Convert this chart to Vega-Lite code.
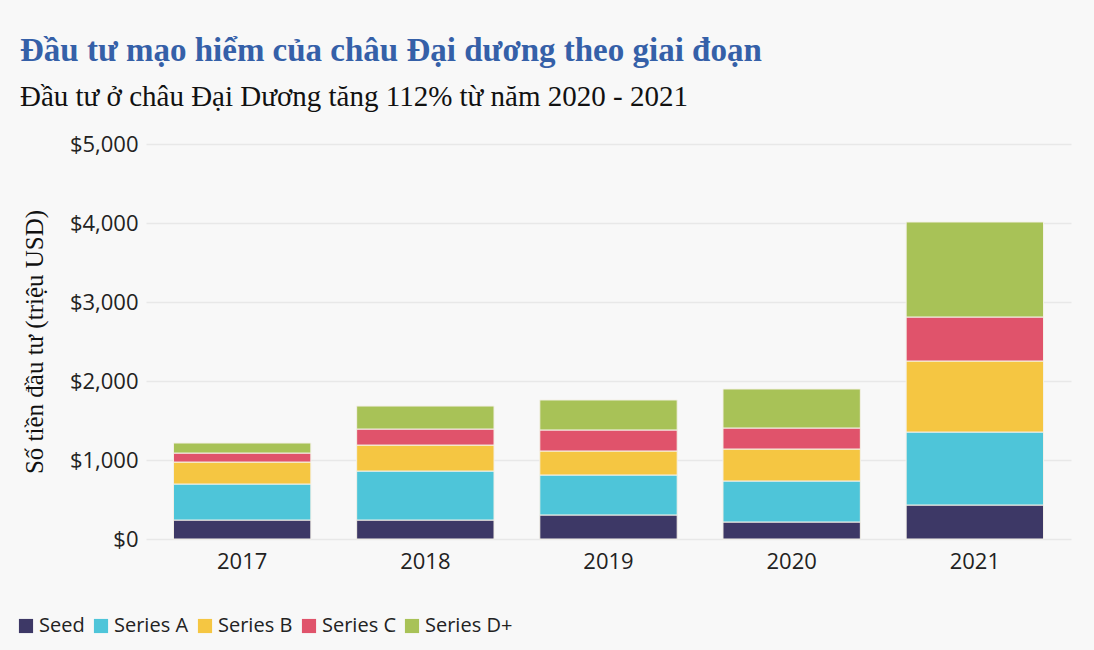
{
  "$schema": "https://vega.github.io/schema/vega-lite/v6.json",
  "width": 925,
  "height": 395,
  "padding": {"left": 16, "top": 35, "right": 30, "bottom": 14},
  "background": "#f8f8f8",
  "title": {
    "text": "Đầu tư mạo hiểm của châu Đại dương theo giai đoạn",
    "subtitle": "Đầu tư ở châu Đại Dương tăng 112% từ năm 2020 - 2021",
    "anchor": "start",
    "frame": "group",
    "offset": 21,
    "font": "Liberation Serif",
    "fontSize": 33,
    "fontWeight": "bold",
    "color": "#3560a8",
    "subtitleFont": "Liberation Serif",
    "subtitleFontSize": 29,
    "subtitleColor": "#111111",
    "subtitlePadding": 15,
    "dx": -126
  },
  "data": {
    "values": [
      {"year": "2017", "stage": "Seed", "value": 240, "o": 1},
      {"year": "2017", "stage": "Series A", "value": 456, "o": 2},
      {"year": "2017", "stage": "Series B", "value": 278, "o": 3},
      {"year": "2017", "stage": "Series C", "value": 114, "o": 4},
      {"year": "2017", "stage": "Series D+", "value": 127, "o": 5},
      {"year": "2018", "stage": "Seed", "value": 240, "o": 1},
      {"year": "2018", "stage": "Series A", "value": 620, "o": 2},
      {"year": "2018", "stage": "Series B", "value": 329, "o": 3},
      {"year": "2018", "stage": "Series C", "value": 203, "o": 4},
      {"year": "2018", "stage": "Series D+", "value": 291, "o": 5},
      {"year": "2019", "stage": "Seed", "value": 304, "o": 1},
      {"year": "2019", "stage": "Series A", "value": 506, "o": 2},
      {"year": "2019", "stage": "Series B", "value": 304, "o": 3},
      {"year": "2019", "stage": "Series C", "value": 266, "o": 4},
      {"year": "2019", "stage": "Series D+", "value": 380, "o": 5},
      {"year": "2020", "stage": "Seed", "value": 215, "o": 1},
      {"year": "2020", "stage": "Series A", "value": 519, "o": 2},
      {"year": "2020", "stage": "Series B", "value": 405, "o": 3},
      {"year": "2020", "stage": "Series C", "value": 266, "o": 4},
      {"year": "2020", "stage": "Series D+", "value": 494, "o": 5},
      {"year": "2021", "stage": "Seed", "value": 430, "o": 1},
      {"year": "2021", "stage": "Series A", "value": 924, "o": 2},
      {"year": "2021", "stage": "Series B", "value": 899, "o": 3},
      {"year": "2021", "stage": "Series C", "value": 557, "o": 4},
      {"year": "2021", "stage": "Series D+", "value": 1203, "o": 5}
    ]
  },
  "mark": {"type": "bar", "stroke": "#f4f1e8", "strokeWidth": 1},
  "encoding": {
    "x": {
      "field": "year",
      "type": "ordinal",
      "title": null,
      "scale": {"paddingInner": 0.25, "paddingOuter": 0.15},
      "axis": {
        "labelAngle": 0,
        "labelFont": "Open Sans",
        "labelFontSize": 22,
        "labelColor": "#222222",
        "labelPadding": 12,
        "ticks": false,
        "domain": false
      }
    },
    "y": {
      "field": "value",
      "type": "quantitative",
      "stack": "zero",
      "title": "Số tiền đầu tư (triệu USD)",
      "scale": {"domain": [0, 5000]},
      "axis": {
        "values": [0, 1000, 2000, 3000, 4000, 5000],
        "format": "$,.0f",
        "labelFont": "Open Sans",
        "labelFontSize": 22,
        "labelColor": "#222222",
        "labelPadding": 8,
        "titleFont": "Liberation Serif",
        "titleFontSize": 25,
        "titleFontWeight": "normal",
        "titleColor": "#111111",
        "titlePadding": 22,
        "ticks": false,
        "domain": false,
        "gridColor": "#e8e8e8",
        "gridWidth": 1.5
      }
    },
    "color": {
      "field": "stage",
      "type": "nominal",
      "title": null,
      "scale": {
        "domain": ["Seed", "Series A", "Series B", "Series C", "Series D+"],
        "range": ["#3d3866", "#4ec5d9", "#f5c642", "#e0536b", "#a8c257"]
      },
      "legend": {
        "orient": "none",
        "direction": "horizontal",
        "legendX": -130,
        "legendY": 472,
        "symbolType": "square",
        "symbolSize": 200,
        "symbolStrokeWidth": 0,
        "labelFont": "Open Sans",
        "labelFontSize": 20,
        "labelColor": "#222222",
        "labelOffset": 3,
        "columnPadding": 6
      }
    },
    "order": {"field": "o", "type": "quantitative"}
  },
  "config": {"view": {"stroke": null}}
}
